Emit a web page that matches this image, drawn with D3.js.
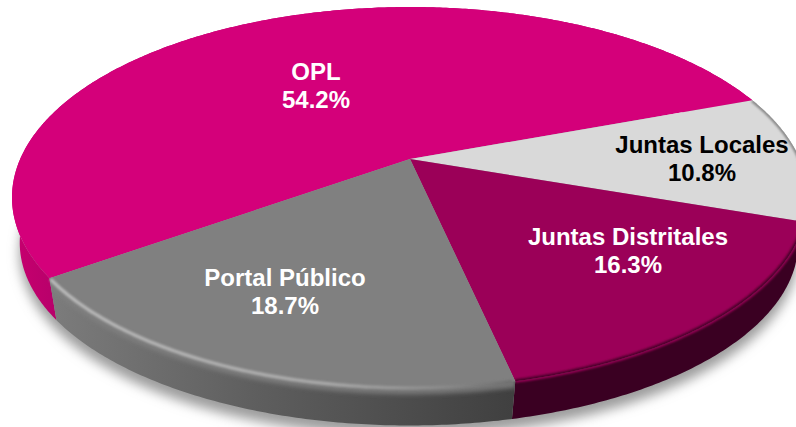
<!DOCTYPE html>
<html><head><meta charset="utf-8">
<script src="https://cdn.jsdelivr.net/npm/d3@7/dist/d3.min.js"></script>
<style>html,body{margin:0;padding:0;background:#fff;overflow:hidden}svg{display:block}
text{font-family:"Liberation Sans",Arial,sans-serif;font-weight:700;font-size:24px;text-anchor:middle}</style>
</head><body><svg id="c" width="796" height="427"></svg>
<script>
const categories = ["OPL","Juntas Locales","Juntas Distritales","Portal Público"];
const values = [54.2,10.8,16.3,18.7];
const labels = ["54.2%","10.8%","16.3%","18.7%"];
const topColors = ["#d4007a","#d9d9d9","#9b0058","#808080"];
const textColors = ["#fff","#000","#fff","#fff"];

// layout
const cx=410, cy=159, R=389.8, S=182.7, K=0.202;
const depthScaleX=0.978, depthScaleY=0.96, depthShiftX=-1, depthShiftY=46.7;
const startDeg=234.8;
const labelPos=[[316,80],[702,153],[628,245],[285,285.5]];
const lineGap=28;

const svg=d3.select("#c");
const TAU=Math.PI*2;
const pie=d3.pie().sort(null).startAngle(startDeg/360*TAU).endAngle(startDeg/360*TAU+TAU);
const arcs=pie(values);

function project(a){ // a: clockwise from top
  const u=Math.sin(a), v=-Math.cos(a), w=1-K*v;
  return [cx+R*u/w, cy+S*v/w];
}
function lower(p){ return [cx+(p[0]-cx)*depthScaleX+depthShiftX, cy+(p[1]-cy)*depthScaleY+depthShiftY]; }
function edge(a0,a1,f){
  const n=Math.max(8,Math.ceil((a1-a0)/0.01));
  return d3.range(n+1).map(i=>{const p=project(a0+(a1-a0)*i/n);return f?f(p):p;});
}
const line=d3.line();

const defs=svg.append("defs");
[["b3",2.2],["b1",1.3],["b2",0.8],["bs",6]].forEach(([id,s])=>{
  defs.append("filter").attr("id",id).attr("x","-20%").attr("y","-20%").attr("width","140%").attr("height","140%")
    .append("feGaussianBlur").attr("stdDeviation",s);
});
function grad(id,x1,x2,stops){
  const g=defs.append("linearGradient").attr("id",id).attr("gradientUnits","userSpaceOnUse")
    .attr("x1",x1).attr("x2",x2).attr("y1",0).attr("y2",0);
  stops.forEach(([o,c])=>g.append("stop").attr("offset",o).attr("stop-color",c));
}
grad("wallGray",50,512,[[0,"#7c7c7c"],[0.45,"#5e5e5e"],[1,"#404040"]]);
grad("wallOpl",10,60,[[0,"#c8006f"],[1,"#b6006a"]]);
grad("bevelGray",50,512,[[0,"#b8b8b8"],[0.6,"#a8a8a8"],[0.85,"#8a8a8a"],[1,"#707070"]]);
grad("softGray",50,512,[[0,"#808080"],[1,"#747474"]]);
const wallFills=["url(#wallOpl)","#7a7a7a","#3a0022","url(#wallGray)"];
const bevel=[null,"#8a8a8a","#4a0029",null];

// soft ground shadow
svg.append("path")
  .attr("d",line(edge(0,TAU,p=>{const q=lower(p);return [q[0],q[1]+10];}))+"Z")
  .attr("fill","#9c9c9c").attr("filter","url(#bs)");

// side walls
arcs.forEach((d,i)=>{
  const topE=edge(d.startAngle,d.endAngle);
  const botE=edge(d.startAngle,d.endAngle,lower).reverse();
  const dStr=line(topE.concat(botE))+"Z";
  svg.append("path").attr("d",dStr).attr("fill",wallFills[i]);
  if(i===3){ // rounded rim of the gray slice fades into the wall
    const id="clipWall"+i;
    defs.append("clipPath").attr("id",id).append("path").attr("d",dStr);
    svg.append("g").attr("clip-path",`url(#${id})`)
      .append("path").attr("d",line(topE)).attr("fill","none")
      .attr("stroke","url(#softGray)").attr("stroke-width",13).attr("filter","url(#b3)");
  }
  if(i===2){
    const id="clipWall"+i;
    defs.append("clipPath").attr("id",id).append("path").attr("d",dStr);
    svg.append("g").attr("clip-path",`url(#${id})`)
      .append("path").attr("d",line(topE)).attr("fill","none")
      .attr("stroke","#9b0058").attr("stroke-width",3).attr("filter","url(#b1)");
  }
});

// top faces with soft rim
arcs.forEach((d,i)=>{
  const outline=[[cx,cy]].concat(edge(d.startAngle,d.endAngle));
  const dStr=line(outline)+"Z";
  svg.append("path").attr("d",dStr).attr("fill",topColors[i]);
  if(bevel[i]){
    const id="clip"+i;
    defs.append("clipPath").attr("id",id).append("path").attr("d",dStr);
    svg.append("g").attr("clip-path",`url(#${id})`)
      .append("path").attr("d",line(edge(d.startAngle,d.endAngle)))
      .attr("fill","none").attr("stroke",bevel[i]).attr("stroke-width",4)
      .attr("filter","url(#b1)");
  }
  if(i===3){ // highlight along the gray rim
    svg.append("path").attr("d",line(edge(d.startAngle+0.006,d.endAngle-0.006)))
      .attr("fill","none").attr("stroke","url(#bevelGray)").attr("stroke-width",3.5)
      .attr("filter","url(#b2)");
  }
});

// labels
categories.forEach((c,i)=>{
  const g=svg.append("g").attr("fill",textColors[i]);
  g.append("text").attr("x",labelPos[i][0]).attr("y",labelPos[i][1]).text(c);
  g.append("text").attr("x",labelPos[i][0]).attr("y",labelPos[i][1]+lineGap).text(labels[i]);
});
</script></body></html>
